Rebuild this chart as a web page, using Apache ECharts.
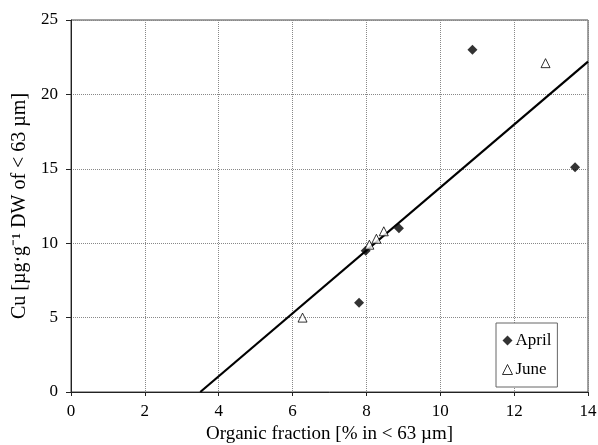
<!DOCTYPE html>
<html>
<head>
<meta charset="utf-8">
<script src="https://cdn.jsdelivr.net/npm/echarts@6/dist/echarts.min.js"></script>
<style>
  html, body { margin: 0; padding: 0; background: #fff; }
  #chart { width: 598px; height: 445px; }
</style>
</head>
<body>
<div id="chart"></div>
<script>
// organic fraction [%], Cu [ug/g]
const aprilPoints = [[10.87, 23.0], [13.65, 15.1], [7.8, 6.0], [8.88, 11.0], [7.98, 9.5]];
const junePoints = [[12.85, 22.1], [6.27, 5.0], [8.08, 9.9], [8.27, 10.3], [8.47, 10.8]];
// regression line end points
const fitLine = [[3.5, 0], [14, 22.2]];

const xTicks = { min: 0, max: 14, interval: 2 };
const yTicks = { min: 0, max: 25, interval: 5 };

const font = 'Liberation Serif';
const chart = echarts.init(document.getElementById('chart'));

chart.setOption({
  animation: false,
  textStyle: { fontFamily: font, color: '#000' },
  grid: {
    left: 71, right: 10, top: 20, bottom: 53,
    outerBoundsMode: 'none',
    containLabel: false,
    show: true, borderColor: '#444', borderWidth: 1
  },
  legend: {
    orient: 'vertical',
    left: 496, top: 323,
    padding: [9, 6, 9, 6],
    itemGap: 12,
    itemWidth: 10, itemHeight: 10,
    borderColor: '#666', borderWidth: 1,
    backgroundColor: '#fff',
    textStyle: { fontFamily: font, fontSize: 17, color: '#000', padding: [0, 0, 0, -2] },
    data: [
      { name: 'April', icon: 'diamond' },
      { name: 'June', icon: 'triangle', itemStyle: { color: '#fff', borderColor: '#000', borderWidth: 1 } }
    ]
  },
  xAxis: {
    type: 'value',
    min: xTicks.min, max: xTicks.max, interval: xTicks.interval,
    name: 'Organic fraction [% in < 63 µm]',
    nameLocation: 'middle',
    nameGap: 33,
    nameTextStyle: { fontFamily: font, fontSize: 19, color: '#000' },
    axisLine: { show: true, lineStyle: { color: '#222' } },
    axisTick: { show: true, length: 4, lineStyle: { color: '#222' } },
    axisLabel: { fontFamily: font, fontSize: 17, color: '#000', margin: 11 },
    splitLine: { show: true, lineStyle: { color: '#888', type: 'dotted' } }
  },
  yAxis: {
    type: 'value',
    min: yTicks.min, max: yTicks.max, interval: yTicks.interval,
    name: 'Cu [µg·g⁻¹ DW of < 63 µm]',
    nameLocation: 'middle',
    nameGap: 38,
    nameTextStyle: { fontFamily: font, fontSize: 20, color: '#000' },
    axisLine: { show: true, lineStyle: { color: '#222' } },
    axisTick: { show: true, length: 5, lineStyle: { color: '#222' } },
    axisLabel: { fontFamily: font, fontSize: 17, color: '#000', margin: 13 },
    splitLine: { show: true, lineStyle: { color: '#888', type: 'dotted' } }
  },
  series: [
    {
      name: 'fit',
      type: 'line',
      data: fitLine,
      symbol: 'none',
      lineStyle: { color: '#000', width: 2.2 },
      z: 1
    },
    {
      name: 'April',
      type: 'scatter',
      data: aprilPoints,
      symbol: 'diamond',
      symbolSize: 10,
      itemStyle: { color: '#000' },
      z: 3
    },
    {
      name: 'June',
      type: 'scatter',
      data: junePoints,
      symbol: 'triangle',
      symbolSize: 9,
      itemStyle: { color: '#fff', borderColor: '#000', borderWidth: 1 },
      z: 3
    }
  ]
});
</script>
</body>
</html>
